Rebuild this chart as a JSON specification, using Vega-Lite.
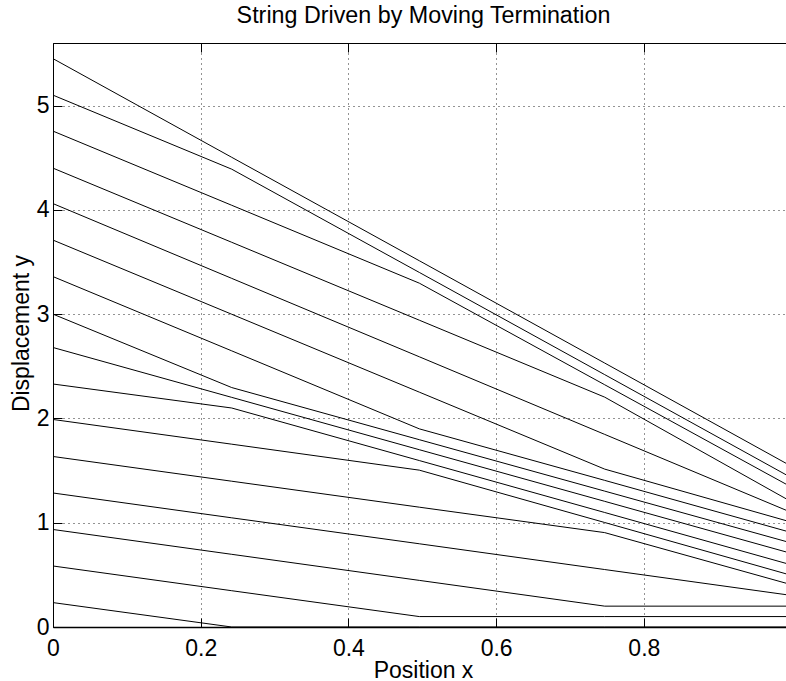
{
  "$schema": "https://vega.github.io/schema/vega-lite/v6.json",
  "width": 733,
  "height": 584,
  "autosize": "none",
  "padding": {"left": 53, "top": 43, "right": 0, "bottom": 54},
  "background": "white",
  "title": {"text": "String Driven by Moving Termination", "anchor": "middle", "font": "Liberation Sans", "fontSize": 23.3, "fontWeight": "normal", "color": "black", "baseline": "alphabetic", "offset": -4, "dx": 4},
  "config": {"view": {"stroke": null}},
  "datasets": {
    "lines": [
      {"s": "L01", "x": 0, "y": 5.45}, {"s": "L01", "x": 0.242, "y": 4.504}, {"s": "L01", "x": 0.496, "y": 3.512}, {"s": "L01", "x": 0.747, "y": 2.531}, {"s": "L01", "x": 0.9925, "y": 1.57},
      {"s": "L02", "x": 0, "y": 5.10}, {"s": "L02", "x": 0.242, "y": 4.39}, {"s": "L02", "x": 0.496, "y": 3.40}, {"s": "L02", "x": 0.747, "y": 2.42}, {"s": "L02", "x": 0.9925, "y": 1.46},
      {"s": "L03", "x": 0, "y": 4.755}, {"s": "L03", "x": 0.242, "y": 4.044}, {"s": "L03", "x": 0.496, "y": 3.297}, {"s": "L03", "x": 0.747, "y": 2.323}, {"s": "L03", "x": 0.9925, "y": 1.37},
      {"s": "L04", "x": 0, "y": 4.40}, {"s": "L04", "x": 0.242, "y": 3.689}, {"s": "L04", "x": 0.496, "y": 2.942}, {"s": "L04", "x": 0.747, "y": 2.204}, {"s": "L04", "x": 0.9925, "y": 1.23},
      {"s": "L05", "x": 0, "y": 4.06}, {"s": "L05", "x": 0.242, "y": 3.343}, {"s": "L05", "x": 0.496, "y": 2.591}, {"s": "L05", "x": 0.747, "y": 1.847}, {"s": "L05", "x": 0.9925, "y": 1.12},
      {"s": "L06", "x": 0, "y": 3.71}, {"s": "L06", "x": 0.242, "y": 2.999}, {"s": "L06", "x": 0.496, "y": 2.252}, {"s": "L06", "x": 0.747, "y": 1.514}, {"s": "L06", "x": 0.9925, "y": 1.02},
      {"s": "L07", "x": 0, "y": 3.36}, {"s": "L07", "x": 0.242, "y": 2.648}, {"s": "L07", "x": 0.496, "y": 1.90}, {"s": "L07", "x": 0.747, "y": 1.406}, {"s": "L07", "x": 0.9925, "y": 0.92},
      {"s": "L08", "x": 0, "y": 3.00}, {"s": "L08", "x": 0.242, "y": 2.296}, {"s": "L08", "x": 0.496, "y": 1.796}, {"s": "L08", "x": 0.747, "y": 1.303}, {"s": "L08", "x": 0.9925, "y": 0.82},
      {"s": "L09", "x": 0, "y": 2.68}, {"s": "L09", "x": 0.242, "y": 2.202}, {"s": "L09", "x": 0.496, "y": 1.70}, {"s": "L09", "x": 0.747, "y": 1.205}, {"s": "L09", "x": 0.9925, "y": 0.72},
      {"s": "L10", "x": 0, "y": 2.33}, {"s": "L10", "x": 0.242, "y": 2.10}, {"s": "L10", "x": 0.496, "y": 1.596}, {"s": "L10", "x": 0.747, "y": 1.098}, {"s": "L10", "x": 0.9925, "y": 0.61},
      {"s": "L11", "x": 0, "y": 1.99}, {"s": "L11", "x": 0.242, "y": 1.753}, {"s": "L11", "x": 0.496, "y": 1.504}, {"s": "L11", "x": 0.747, "y": 1.002}, {"s": "L11", "x": 0.9925, "y": 0.51},
      {"s": "L12", "x": 0, "y": 1.635}, {"s": "L12", "x": 0.242, "y": 1.398}, {"s": "L12", "x": 0.496, "y": 1.149}, {"s": "L12", "x": 0.747, "y": 0.905}, {"s": "L12", "x": 0.9925, "y": 0.42},
      {"s": "L13", "x": 0, "y": 1.285}, {"s": "L13", "x": 0.242, "y": 1.047}, {"s": "L13", "x": 0.496, "y": 0.798}, {"s": "L13", "x": 0.747, "y": 0.551}, {"s": "L13", "x": 0.9925, "y": 0.31},
      {"s": "L14", "x": 0, "y": 0.935}, {"s": "L14", "x": 0.242, "y": 0.697}, {"s": "L14", "x": 0.496, "y": 0.447}, {"s": "L14", "x": 0.747, "y": 0.20}, {"s": "L14", "x": 0.9925, "y": 0.20},
      {"s": "L15", "x": 0, "y": 0.585}, {"s": "L15", "x": 0.242, "y": 0.348}, {"s": "L15", "x": 0.496, "y": 0.10}, {"s": "L15", "x": 0.747, "y": 0.10}, {"s": "L15", "x": 0.9925, "y": 0.10},
      {"s": "L16", "x": 0, "y": 0.234}, {"s": "L16", "x": 0.242, "y": 0}, {"s": "L16", "x": 0.496, "y": 0}, {"s": "L16", "x": 0.747, "y": 0}, {"s": "L16", "x": 0.9925, "y": 0}
    ]
  },
  "data": {"name": "lines"},
  "resolve": {"axis": {"x": "independent"}},
  "encoding": {
    "y": {
      "field": "y", "type": "quantitative",
      "scale": {"domain": [0, 5.6], "nice": false, "zero": false},
      "axis": {
        "orient": "left", "title": "Displacement y", "values": [0, 1, 2, 3, 4, 5], "format": "~g",
        "grid": true, "gridColor": "black", "gridDash": [1, 4], "gridOpacity": 0.85, "gridWidth": 1,
        "domainColor": "black", "domainWidth": 1, "tickColor": "black", "tickSize": -9, "tickWidth": 1,
        "labelPadding": 13, "labelFlush": false, "labelFont": "Liberation Sans", "labelFontSize": 23, "labelColor": "black",
        "titleFont": "Liberation Sans", "titleFontSize": 23, "titleFontWeight": "normal", "titleColor": "black",
        "titleX": -24.4, "titleY": 290, "titleAngle": -90, "titleBaseline": "alphabetic", "titleAlign": "center"
      }
    },
    "detail": {"field": "s"}
  },
  "layer": [
    {
      "mark": {"type": "line", "color": "black", "strokeWidth": 1},
      "encoding": {
        "x": {
          "field": "x", "type": "quantitative",
          "scale": {"domain": [0, 0.9925], "nice": false, "zero": false},
          "axis": {
            "orient": "bottom", "title": "Position x", "values": [0, 0.2, 0.4, 0.6, 0.8], "format": "~g",
            "grid": true, "gridColor": "black", "gridDash": [1, 4], "gridOpacity": 0.85, "gridWidth": 1,
            "domainColor": "black", "domainWidth": 1.3, "tickColor": "black", "tickSize": -9, "tickWidth": 1,
            "labelPadding": 19, "labelFlush": false, "labelFont": "Liberation Sans", "labelFontSize": 23, "labelColor": "black",
            "titleFont": "Liberation Sans", "titleFontSize": 23, "titleFontWeight": "normal", "titleColor": "black",
            "titleX": 370, "titleY": 50, "titleBaseline": "alphabetic", "titleAlign": "center"
          }
        }
      }
    },
    {
      "mark": {"type": "line", "color": "black", "strokeOpacity": 0},
      "encoding": {
        "x": {
          "field": "x", "type": "quantitative",
          "axis": {
            "orient": "top", "title": null, "values": [0, 0.2, 0.4, 0.6, 0.8], "labels": false, "grid": false,
            "domainColor": "black", "domainWidth": 1, "tickColor": "black", "tickSize": -9, "tickWidth": 1
          }
        }
      }
    }
  ]
}
